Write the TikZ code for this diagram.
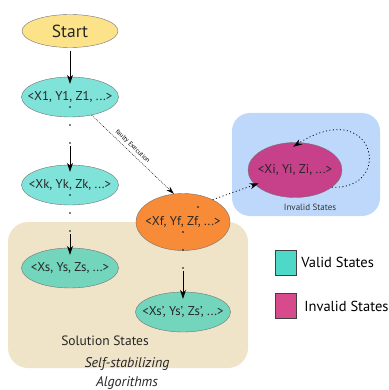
\documentclass[tikz,border=0pt]{standalone}
\usepackage{fontspec}
\setmainfont{PT Sans}
\usetikzlibrary{shapes.geometric,arrows.meta,calc,positioning}
\definecolor{startyel}{HTML}{FCE38A}
\definecolor{validup}{HTML}{80E3D9}
\definecolor{validsol}{HTML}{72D5BC}
\definecolor{faultor}{HTML}{F88B38}
\definecolor{invmag}{HTML}{C6408A}
\definecolor{solbg}{HTML}{EFE3C8}
\definecolor{invbg}{HTML}{BED8FC}
\definecolor{legteal}{HTML}{4DD8C7}
\definecolor{legmag}{HTML}{D74B8D}
\newcommand{\stxt}[1]{\makebox[0pt]{#1}}
\tikzset{
  st_n/.style = {ellipse, draw=black!55, thin, inner sep=0pt, minimum width=97pt, minimum height=40pt, text=black!85, font=\fontsize{12.8}{15}\selectfont},
  start_n/.style = {st_n, fill=startyel, minimum width=96pt, minimum height=33pt, font=\fontsize{17.5}{20}\selectfont},
  valid_n/.style = {st_n, fill=validup},
  sol_n/.style = {st_n, fill=validsol},
  fault_n/.style = {st_n, fill=faultor, minimum width=94pt, minimum height=57pt},
  inval_n/.style = {st_n, fill=invmag, minimum width=94pt, minimum height=55pt},
  region/.style = {rounded corners=20pt},
  flow/.style = {-{Stealth[length=9pt,width=6pt]}, thick, shorten >=-7pt},
  faulty/.style = {-{Stealth[length=8pt,width=5pt]}, thin, dash pattern=on 1pt off 1pt},
  jump/.style = {-{Stealth[length=9pt,width=6pt]}, line width=0.8pt, dash pattern=on 1pt off 2.5pt},
  legbox/.style = {draw=black!75, minimum width=21pt, minimum height=25pt, inner sep=0pt},
  leglabel/.style = {font=\fontsize{14.5}{17}\selectfont, inner sep=0pt}
}

\begin{document}
\begin{tikzpicture}[x=1pt, y=-1pt]
	\useasboundingbox (0,0) rectangle (388,390);
	\fill[solbg, region] (8,222) rectangle (248,368);
	\fill[invbg, rounded corners=18pt] (232,113) rectangle (380,216);

	\node[start_n] (start) at (70,31) {Start};
	\node[valid_n] (x1) at (70,97) {\stxt{<X1, Y1, Z1, ...>}};
	\node[valid_n] (xk) at (70,185) {\stxt{<Xk, Yk, Zk, ...>}};
	\node[sol_n] (xs) at (70,268) {\stxt{<Xs, Ys, Zs, ...>}};
	\node[fault_n] (xf) at (183,222) {\stxt{<Xf, Yf, Zf, ...>}};
	\node[sol_n, minimum width=95pt] (xsp) at (183,312) {\stxt{<Xs', Ys', Zs', ...>}};
	\node[inval_n] (xi) at (295,170) {\stxt{<Xi, Yi, Zi, ...>}};

	\node[font=\fontsize{9}{11}\selectfont, text=black!80] (invlbl) at (310,207) {Invalid States};
	\node[font=\fontsize{13.5}{15}\selectfont, text=black!85] (sollbl) at (105,341) {Solution States};
	\node[font=\fontsize{14}{19}\selectfont\itshape, align=center, text=black!85] (alglbl) at (127,373) {Self-stabilizing\\Algorithms};

	\draw[flow, shorten <=3pt] (start) -- (x1.north);
	\foreach \a/\b in {x1/xk, xk/xs, xf/xsp}{
		\foreach \d in {10,28,46}
			\fill ($(\a.center)+(0,\d)$) circle (0.9pt);
		\draw[flow] ($(\a.center)+(0,49)$) -- (\b.north);
	}
	\fill (198,207) circle (0.8pt);
	\draw[faulty] (x1.-40) -- node[pos=0.45, rotate=-44, anchor=south, inner sep=2.5pt, font=\fontsize{6.5}{7}\selectfont] {faulty Execution} (xf.108);
	\draw[jump, shorten >=-4pt] (xf.37) -- (xi.200);
	\draw[jump, shorten >=-8pt] (xi.-25) .. controls +(63,3) and +(75,-48) .. (xi.80);

	\node[legbox, fill=legteal] (lv) at (285.5,262.5) {};
	\node[leglabel, right=5pt of lv] (lvt) {Valid States};
	\node[legbox, fill=legmag] (li) at (285.5,306) {};
	\node[leglabel, right=8pt of li] (lit) {Invalid States};
\end{tikzpicture}
\end{document}
